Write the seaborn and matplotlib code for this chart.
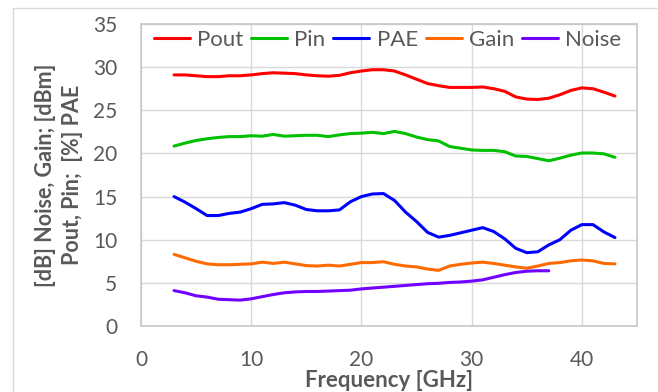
import matplotlib
matplotlib.use("Agg")
import matplotlib.pyplot as plt
import seaborn as sns
import pandas as pd
import numpy as np
from matplotlib.patches import Rectangle

freq = list(range(3, 44))
pout = [29.1, 29.1, 29.0, 28.9, 28.9, 29.0, 29.0, 29.1, 29.25, 29.35, 29.3, 29.25, 29.1, 29.0,
        28.95, 29.05, 29.35, 29.55, 29.7, 29.7, 29.55, 29.1, 28.6, 28.1, 27.85, 27.65, 27.65,
        27.65, 27.7, 27.5, 27.2, 26.55, 26.3, 26.25, 26.4, 26.8, 27.3, 27.6, 27.5, 27.1, 26.65]
pin = [20.85, 21.2, 21.5, 21.7, 21.85, 21.95, 21.95, 22.05, 22.0, 22.2, 22.0, 22.05, 22.1, 22.1,
       21.95, 22.15, 22.3, 22.35, 22.45, 22.3, 22.55, 22.3, 21.9, 21.6, 21.45, 20.8, 20.6, 20.4,
       20.35, 20.35, 20.2, 19.7, 19.65, 19.4, 19.15, 19.45, 19.8, 20.05, 20.05, 19.95, 19.55]
pae = [15.0, 14.35, 13.6, 12.8, 12.8, 13.05, 13.2, 13.6, 14.1, 14.15, 14.3, 14.0, 13.5, 13.35,
       13.35, 13.45, 14.4, 15.0, 15.3, 15.35, 14.55, 13.2, 12.1, 10.85, 10.3, 10.5, 10.8, 11.1,
       11.4, 10.95, 10.1, 9.0, 8.5, 8.6, 9.4, 10.0, 11.1, 11.75, 11.75, 10.9, 10.25]
gain = [8.3, 7.9, 7.5, 7.2, 7.1, 7.1, 7.15, 7.2, 7.4, 7.25, 7.4, 7.2, 7.0, 6.95, 7.05, 6.95, 7.15,
        7.35, 7.35, 7.45, 7.15, 6.95, 6.85, 6.6, 6.45, 6.95, 7.15, 7.3, 7.4, 7.25, 7.05, 6.85,
        6.7, 6.95, 7.25, 7.35, 7.55, 7.65, 7.55, 7.25, 7.2]
noise_freq = list(range(3, 38))
noise = [4.1, 3.85, 3.5, 3.35, 3.1, 3.05, 3.0, 3.15, 3.4, 3.65, 3.85, 3.95, 4.0, 4.0, 4.05, 4.1,
         4.15, 4.3, 4.4, 4.5, 4.6, 4.7, 4.8, 4.9, 4.95, 5.05, 5.1, 5.2, 5.35, 5.65, 5.95, 6.2,
         6.35, 6.4, 6.4]

series_names = ["Pout", "Pin", "PAE", "Gain", "Noise"]
colors = ["#ff0000", "#00c000", "#0000ff", "#ff6a00", "#7000ff"]
x_ticks = [0, 10, 20, 30, 40]
y_ticks = [0, 5, 10, 15, 20, 25, 30, 35]

frames = []
for name, xs, ys in [("Pout", freq, pout), ("Pin", freq, pin), ("PAE", freq, pae),
                     ("Gain", freq, gain), ("Noise", noise_freq, noise)]:
    frames.append(pd.DataFrame({"Frequency": xs, "Value": ys, "Series": name}))
df = pd.concat(frames, ignore_index=True)

sns.set_theme(style="white")
plt.rcParams['font.family'] = ['Lato', 'DejaVu Sans']

fig = plt.figure(figsize=(6.58, 3.92), dpi=100)
ax = fig.add_axes([141/658, 1-326/392, (637-141)/658, (326-24)/392])

fig.patches.append(Rectangle((13/658, -0.1), 1.2, (392-8)/392 + 0.1, transform=fig.transFigure,
                             fill=False, edgecolor="#d9d9d9", linewidth=1.0, zorder=0))

sns.lineplot(data=df, x="Frequency", y="Value", hue="Series", hue_order=series_names,
             palette=colors, linewidth=2.2, ax=ax, estimator=None, sort=False)

ax.set_xlim(0, 45)
ax.set_ylim(0, 35)
ax.set_xticks(x_ticks)
ax.set_yticks(y_ticks)
ax.grid(True, color="#d9d9d9", linewidth=1.0)
ax.set_axisbelow(True)
for s in ax.spines.values():
    s.set_color("#c8c8c8")
    s.set_linewidth(1.2)
ax.tick_params(axis="x", length=0, pad=17, labelsize=15, labelcolor="#595959")
ax.tick_params(axis="y", length=0, pad=17, labelsize=15, labelcolor="#595959")

ax.set_xlabel("Frequency [GHz]", fontsize=16, fontweight="bold", color="#595959", labelpad=0)
ax.set_ylabel("[dB] Noise, Gain; [dBm]\nPout, Pin;  [%] PAE", fontsize=15.5, fontweight="bold",
              color="#595959", linespacing=1.35, labelpad=7)

handles, labels = ax.get_legend_handles_labels()
leg = ax.legend(handles, labels, loc="center", bbox_to_anchor=(0.497, 0.947), ncol=5,
                frameon=False, fontsize=16, handlelength=1.62, handletextpad=0.33,
                columnspacing=0.35, borderaxespad=0)
for t in leg.get_texts():
    t.set_color("#595959")

fig.savefig("out.png", dpi=100)
